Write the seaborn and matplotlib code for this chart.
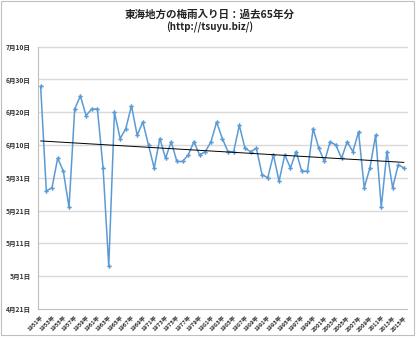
import matplotlib
matplotlib.use("Agg")
import matplotlib.pyplot as plt
import seaborn as sns
import pandas as pd
import numpy as np

years = list(range(1951, 2016))
# days after 4月21日
days = [68, 36, 37, 46, 42, 31, 61, 65, 59, 61,
        61, 43, 13, 60, 52, 55, 62, 53, 57, 50,
        43, 52, 46, 51, 45, 45, 47, 51, 47, 48,
        51, 57, 52, 48, 48, 56, 49, 48, 49, 41,
        40, 47, 39, 47, 43, 48, 42, 42, 55, 49,
        45, 51, 50, 46, 51, 48, 54, 37, 43, 53,
        31, 48, 37, 44, 43]
ytick_labels = ["4月21日", "5月1日", "5月11日", "5月21日", "5月31日",
                "6月10日", "6月20日", "6月30日", "7月10日"]
title_text = "東海地方の梅雨入り日：過去65年分"
subtitle_text = "(http://tsuyu.biz/)"

sns.set_style("white")
plt.rcParams['font.family'] = ['Noto Sans CJK JP', 'DejaVu Sans']

df = pd.DataFrame({"year": years, "day": days})

fig = plt.figure(figsize=(4.2, 3.37), dpi=100)
ax = fig.add_axes([0.09, 0.0831, 0.8786, 0.7783])

ax.set_ylim(0, 80)
ax.set_xlim(years[0] - 0.5, years[-1] + 0.5)
yt = list(range(0, 81, 10))
ax.set_yticks(yt)
ax.set_yticklabels(ytick_labels, fontsize=4.8, fontweight='bold', color='#333333')
for y in yt[1:]:
    ax.axhline(y, color='#d9d9d9', linewidth=1.0, zorder=0, clip_on=False)

sns.lineplot(data=df, x="year", y="day", ax=ax, color='#5b9bd5', linewidth=1.1,
             marker='P', markersize=3.2, markeredgewidth=0, zorder=3)
sns.regplot(data=df, x="year", y="day", ax=ax, scatter=False, ci=None,
            line_kws=dict(color='black', linewidth=0.7, zorder=4))

xt = years[::2]
ax.set_xticks(xt)
ax.set_xticklabels([f"{y}年" for y in xt], rotation=45, ha='right', rotation_mode='anchor',
                   fontsize=4.2, fontweight='bold', color='#333333')
ax.set_xticks(years, minor=True)
ax.tick_params(axis='x', which='both', length=2.5, width=0.6, color='#bfbfbf', direction='out', pad=1.5)
ax.tick_params(axis='y', length=3, width=0.6, color='#bfbfbf', direction='out', pad=2)
ax.set_xlabel("")
ax.set_ylabel("")
for s in ['top', 'right']:
    ax.spines[s].set_visible(False)
ax.spines['left'].set_color('#bfbfbf')
ax.spines['bottom'].set_color('#bfbfbf')
ax.spines['left'].set_linewidth(0.8)
ax.spines['bottom'].set_linewidth(0.8)

fig.text(0.5, 0.955, title_text, ha='center', va='center', fontsize=7.6, fontweight='bold', color='#222222')
fig.text(0.5, 0.918, subtitle_text, ha='center', va='center', fontsize=7, fontweight='bold', color='#222222')

# outer frame
fig.patches.append(plt.Rectangle((0.003, 0.006), 0.982, 0.99, transform=fig.transFigure,
                                 fill=False, edgecolor='#bfbfbf', linewidth=0.8))

fig.savefig("out.png", dpi=100)
